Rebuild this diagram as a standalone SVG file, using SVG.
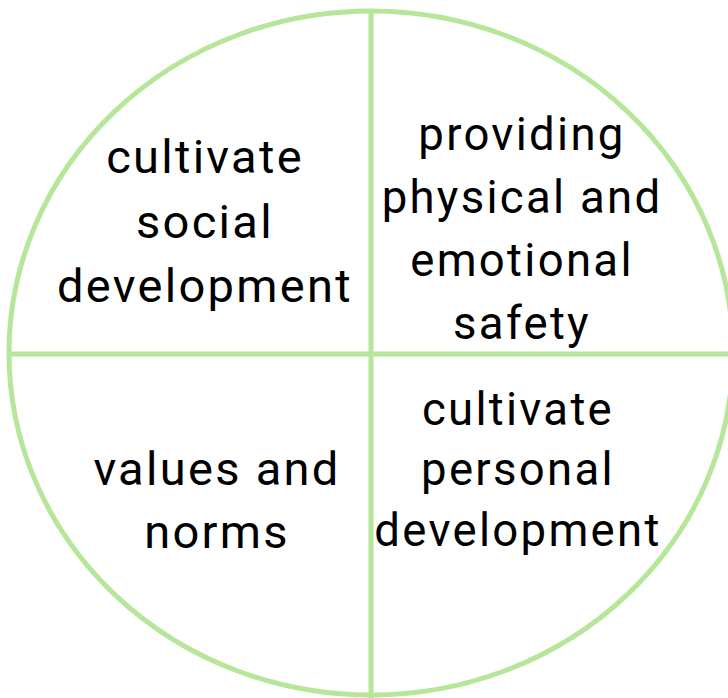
<svg xmlns="http://www.w3.org/2000/svg" width="728" height="698" viewBox="0 0 728 698">
<style>
.ln{fill:none;stroke:#b5e69a;stroke-width:5}
text{font-family:Roboto,"Liberation Sans",sans-serif;font-size:47px;fill:#000;text-anchor:middle;letter-spacing:2.3px}
.s{font-size:45.5px}
</style>
<rect width="728" height="698" fill="#fff"/>
<g id="connectors">
<ellipse class="ln" cx="371" cy="353" rx="362" ry="342"/>
<line class="ln" x1="9" y1="354" x2="728" y2="354"/>
<line class="ln" x1="371" y1="11" x2="371" y2="698"/>
</g>
<g id="q1">
<text x="205" y="173">cultivate</text>
<text x="205" y="238">social</text>
<text x="205" y="302">development</text>
</g>
<g id="q2">
<text class="s" x="522" y="150">providing</text>
<text class="s" x="522" y="213">physical and</text>
<text class="s" x="522" y="276">emotional</text>
<text class="s" x="522" y="339">safety</text>
</g>
<g id="q3">
<text x="217" y="485">values and</text>
<text x="217" y="548">norms</text>
</g>
<g id="q4">
<text class="s" x="518" y="425">cultivate</text>
<text class="s" x="518" y="485">personal</text>
<text class="s" x="518" y="546">development</text>
</g>
</svg>
